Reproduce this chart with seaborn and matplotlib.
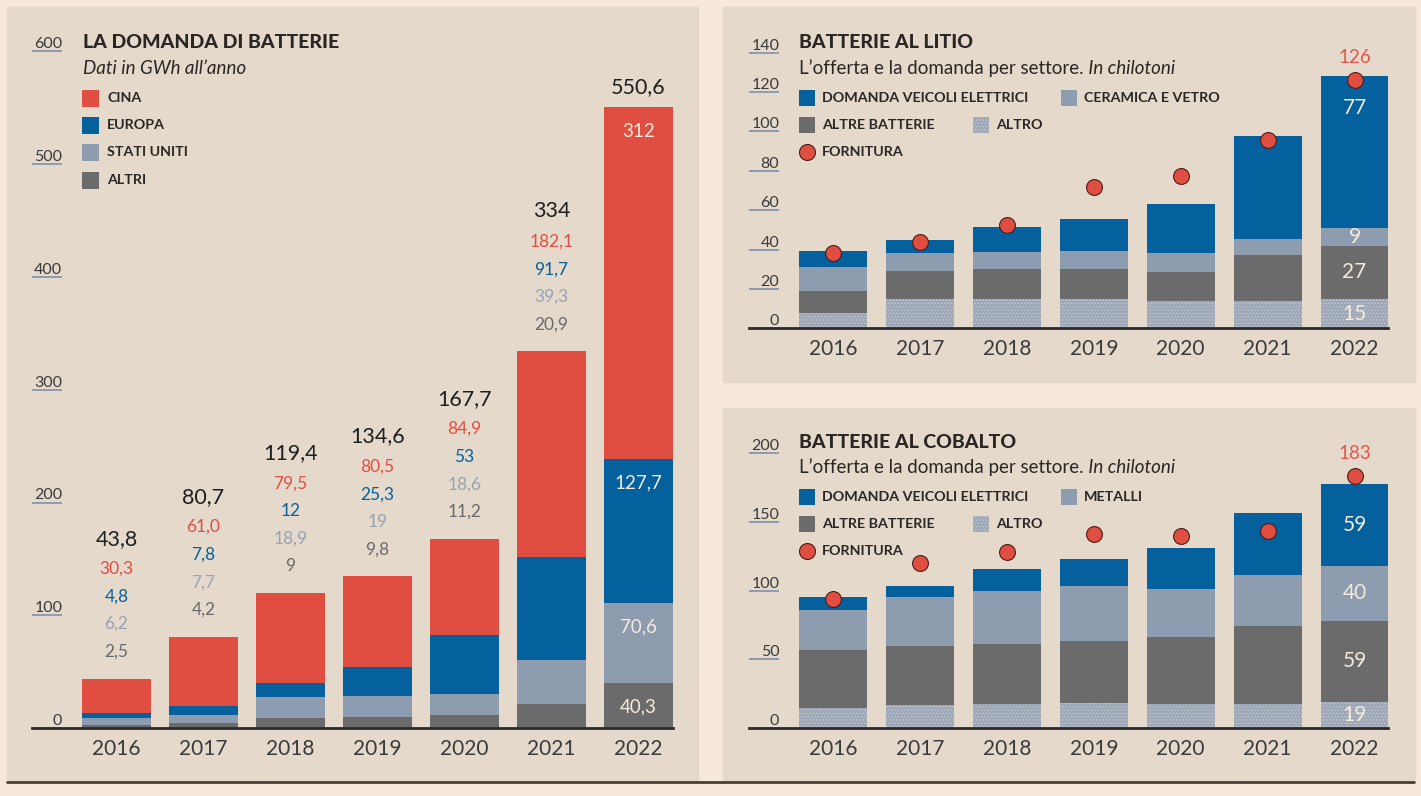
import numpy as np
import seaborn as sns
import matplotlib.pyplot as plt
from matplotlib.patches import Rectangle
from matplotlib.lines import Line2D

# --- data ---------------------------------------------------------------
anni = ["2016", "2017", "2018", "2019", "2020", "2021", "2022"]

# domanda di batterie, GWh (strings as printed in the chart)
cina = ["30,3", "61,0", "79,5", "80,5", "84,9", "182,1", "312"]
europa = ["4,8", "7,8", "12", "25,3", "53", "91,7", "127,7"]
stati_uniti = ["6,2", "7,7", "18,9", "19", "18,6", "39,3", "70,6"]
altri = ["2,5", "4,2", "9", "9,8", "11,2", "20,9", "40,3"]
totale = ["43,8", "80,7", "119,4", "134,6", "167,7", "334", "550,6"]

# litio, chilotoni
li_veicoli = [8.5, 7, 12.5, 16, 25, 52, 77]
li_ceramica = [12, 9, 9, 9.5, 9.5, 8.5, 9]
li_altre_batterie = [11, 14, 15, 15, 14.5, 23, 27]
li_altro = [8, 15, 15, 15, 14, 14, 15]
li_fornitura = [38, 44, 52.5, 72, 77.5, 95.5, 126]

# cobalto, chilotoni
co_veicoli = [10, 8, 15.5, 20, 29.5, 45.5, 59]
co_metalli = [28.5, 35, 38.5, 40, 35, 37, 40]
co_altre_batterie = [42, 43, 44, 45, 48.5, 56.5, 59]
co_altro = [15, 17, 17.5, 18, 17.5, 17.5, 19]
co_fornitura = [94, 120, 128, 141, 139.5, 143, 183]

# --- style --------------------------------------------------------------
W, H = 1421, 796
BG = "#f6e9dc"
PANEL = "#e4d9cb"
RED = "#e04e42"
BLUE = "#04619e"
GREYBLUE = "#8e9cb0"
DARK = "#6b6b6b"
ALTRO = "#9ea8b7"
INK = "#2a2623"
CREAM = "#f4ebdc"
TICK = "#8d9bb2"

sns.set_style("white")
plt.rcParams["font.family"] = ["Lato", "DejaVu Sans"]
plt.rcParams["hatch.linewidth"] = 0.6


def num(lst):
    return np.array([float(s.replace(",", ".")) for s in lst])


fig = plt.figure(figsize=(W / 100, H / 100), dpi=100, facecolor=BG)


def px_axes(x0, x1, y_top, y_bot):
    ax = fig.add_axes([x0 / W, 1 - y_bot / H, (x1 - x0) / W, (y_bot - y_top) / H])
    ax.set_facecolor("none")
    return ax


def panel(x0, y0, x1, y1):
    fig.add_artist(Rectangle((x0 / W, 1 - y1 / H), (x1 - x0) / W, (y1 - y0) / H,
                             transform=fig.transFigure, color=PANEL, zorder=-1))


def legend_box(x, y, color, label, size=16, gap=23, hatch=None, fs=10.3):
    r = Rectangle((x / W, 1 - (y + size / 2) / H), size / W, size / H,
                  transform=fig.transFigure, facecolor=color, linewidth=0, zorder=2)
    if hatch:
        r.set_hatch(hatch)
        r.set_edgecolor("#c3c9d1")
    fig.add_artist(r)
    fig.text((x + gap) / W, 1 - y / H, label, va="center", ha="left",
             fontsize=fs, fontweight="bold", color=INK)


def legend_dot(x, y, label, gap=15):
    fig.add_artist(Line2D([x / W], [1 - y / H], marker="o", markersize=11.5,
                          markerfacecolor=RED, markeredgecolor="#4a1c16",
                          markeredgewidth=0.8, transform=fig.transFigure))
    fig.text((x + gap) / W, 1 - y / H, label, va="center", ha="left",
             fontsize=10.3, fontweight="bold", color=INK)


def style_axes(ax, ymax, step, xlim):
    ax.set_xlim(*xlim)
    ax.set_ylim(0, ymax)
    ticks = np.arange(0, ymax + 1, step)
    ax.set_yticks(ticks, [f"{t:g}" for t in ticks], va="bottom")
    ax.tick_params(axis="y", left=True, direction="in", length=21.6, width=1.4,
                   color=TICK, pad=-21.8, labelsize=11.5, labelcolor="#3a3a3a")
    ax.tick_params(axis="x", bottom=False, length=0, pad=8, labelsize=15,
                   labelcolor="#3a3a3a")
    for s in ["left", "right", "top"]:
        ax.spines[s].set_visible(False)
    ax.spines["bottom"].set_color("#2b2b2b")
    ax.spines["bottom"].set_linewidth(2)
    ax.spines["bottom"].set_zorder(6)
    ax.set_xlabel("")
    ax.set_ylabel("")


def stacked(ax, layers, colors, width, hatch_first=False):
    # layers bottom -> top, drawn as cumulative bars from the tallest down
    cum = np.cumsum(np.array(layers, dtype=float), axis=0)
    for i in range(len(layers) - 1, -1, -1):
        sns.barplot(x=anni, y=cum[i], color=colors[i], width=width, saturation=1,
                    errorbar=None, linewidth=0, ax=ax)
    if hatch_first:
        for p in ax.containers[-1]:
            p.set_hatch(".....")
            p.set_edgecolor("#c3c9d1")
            p.set_linewidth(0)
    return cum


# panels and bottom rule
panel(7, 7, 698, 780)
panel(723, 7, 1415, 382)
panel(723, 408, 1415, 780)
fig.add_artist(Line2D([7 / W, 1414 / W], [1 - 782 / H] * 2, color="#4a3f36", lw=2))

# --- left: domanda di batterie -----------------------------------------
axL = px_axes(32, 672.7, 51.5, 728)
layers = [num(altri), num(stati_uniti), num(europa), num(cina)]
cumL = stacked(axL, layers, [DARK, GREYBLUE, BLUE, RED], 0.8)
style_axes(axL, 600, 100, (-0.971, 6.395))

lab_cols = [("#6a6a6a", altri, 27), ("#97a3b6", stati_uniti, 54.5),
            (BLUE, europa, 82), (RED, cina, 110)]
tot = num(totale)
for i in range(len(anni) - 1):
    for col, arr, off in lab_cols:
        axL.annotate(arr[i], (i, tot[i]), xytext=(0, off * 0.72), textcoords="offset points",
                     ha="center", va="center", fontsize=12.5, color=col)
    axL.annotate(totale[i], (i, tot[i]), xytext=(0, 140 * 0.72), textcoords="offset points",
                 ha="center", va="center", fontsize=15.5, color="#1e1e1e")
last = len(anni) - 1
axL.annotate(totale[last], (last, tot[last]), xytext=(0, 20 * 0.72), textcoords="offset points",
             ha="center", va="center", fontsize=15.5, color="#1e1e1e")
for k, arr in enumerate([altri, stati_uniti, europa, cina]):
    axL.annotate(arr[last], (last, cumL[k][last]), xytext=(0, -24 * 0.72),
                 textcoords="offset points", ha="center", va="center",
                 fontsize=13.5, color=CREAM)

fig.text(83 / W, 1 - 43 / H, "LA DOMANDA DI BATTERIE", fontsize=14, fontweight="black",
         color=INK, va="center")
fig.text(83 / W, 1 - 69 / H, "Dati in GWh all’anno", fontsize=13.5, style="italic",
         color=INK, va="center")
legend_box(82, 98, RED, "CINA", size=17, gap=25)
legend_box(82, 125, BLUE, "EUROPA", size=17, gap=25)
legend_box(82, 152.5, GREYBLUE, "STATI UNITI", size=17, gap=25)
legend_box(82, 180, DARK, "ALTRI", size=17, gap=25)


# --- right panels ---------------------------------------------------------
def right_chart(y_top, y_bot, ymax, step, layers, second, fornitura, title, y0,
                ev_from_top=None):
    ax = px_axes(749, 1388, y_top, y_bot)
    cum = stacked(ax, layers, [ALTRO, DARK, GREYBLUE, BLUE], 0.78, hatch_first=True)
    sns.scatterplot(x=np.arange(len(anni)), y=fornitura, s=130, color=RED,
                    edgecolor="#4a1c16", linewidth=0.8, zorder=5, legend=False, ax=ax)
    style_axes(ax, ymax, step, (-0.967, 6.385))
    ax.set_xticks(range(len(anni)), anni)
    last = len(anni) - 1
    ax.annotate(f"{fornitura[last]:g}", (last, fornitura[last]), xytext=(0, 23 * 0.72),
                textcoords="offset points", ha="center", va="center",
                fontsize=13.5, color="#e0574c")
    for k in range(len(layers)):
        top = cum[k][last]
        bottom = cum[k - 1][last] if k else 0
        ypos = (top + bottom) / 2
        if ev_from_top is not None and k == len(layers) - 1:
            ypos = max(ypos, top - ev_from_top)
        ax.text(last, ypos, f"{layers[k][last]:g}", ha="center", va="center",
                fontsize=15, color=CREAM)

    fig.text(799 / W, 1 - y0 / H, title, fontsize=14, fontweight="black",
             color=INK, va="center")
    t1 = fig.text(799 / W, 1 - (y0 + 25.5) / H, "L’offerta e la domanda per settore.",
                  fontsize=13.5, color=INK, va="center")
    ax.annotate(" In chilotoni", xy=(1, 0.5), xycoords=t1, va="center", ha="left",
                fontsize=13.5, style="italic", color=INK, annotation_clip=False)
    legend_box(799, y0 + 55, BLUE, "DOMANDA VEICOLI ELETTRICI")
    legend_box(1061, y0 + 55, GREYBLUE, second)
    legend_box(799, y0 + 82, DARK, "ALTRE BATTERIE")
    legend_box(973, y0 + 82, ALTRO, "ALTRO", hatch=".....")
    legend_dot(807, y0 + 109, "FORNITURA")
    return ax


right_chart(52.7, 328.3, 140, 20,
            [li_altro, li_altre_batterie, li_ceramica, li_veicoli],
            "CERAMICA E VETRO", li_fornitura, "BATTERIE AL LITIO", 43, ev_from_top=16)
right_chart(452.7, 728.3, 200, 50,
            [co_altro, co_altre_batterie, co_metalli, co_veicoli],
            "METALLI", co_fornitura, "BATTERIE AL COBALTO", 442)

fig.savefig("out.png", dpi=100, facecolor=BG)
